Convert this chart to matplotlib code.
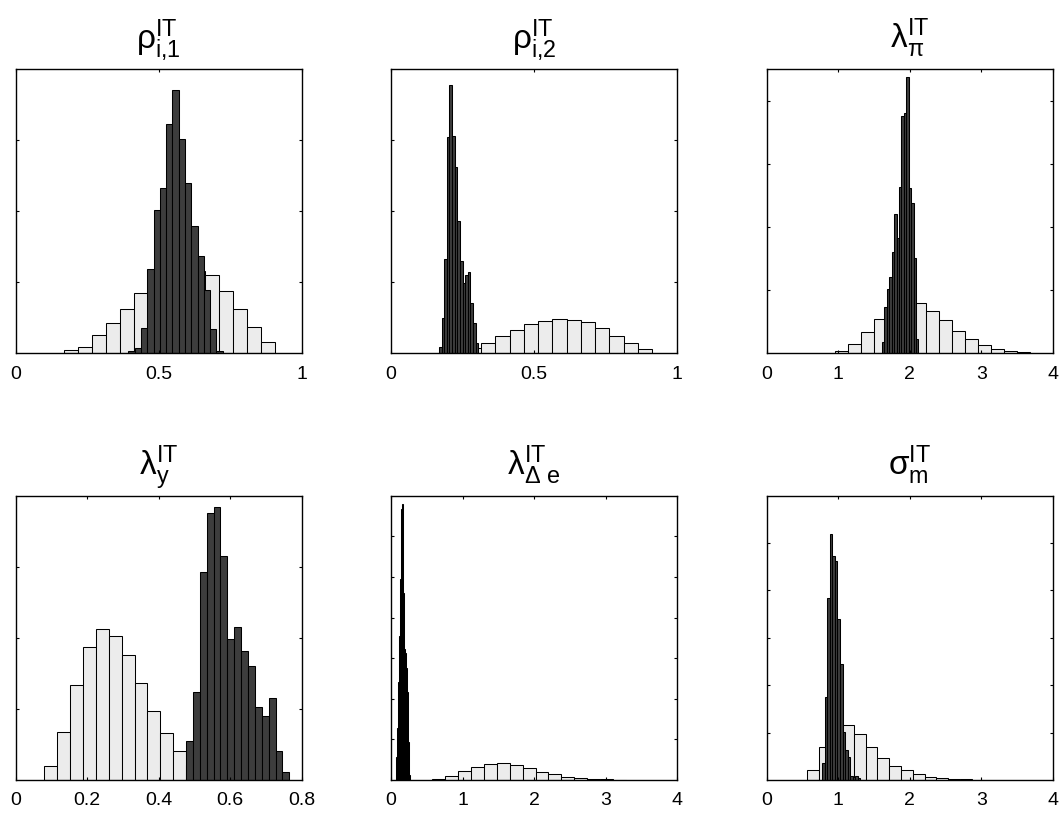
import numpy as np
import matplotlib
matplotlib.use("Agg")
import matplotlib.pyplot as plt

plt.rcParams.update({
    "font.family": ["Liberation Sans", "DejaVu Sans"],
    "mathtext.fontset": "custom", "mathtext.rm": "Liberation Sans",
    "mathtext.it": "Liberation Sans:italic", "mathtext.bf": "Liberation Sans:bold",
    "xtick.direction": "in", "ytick.direction": "in",
    "xtick.top": True, "ytick.right": True,
    "xtick.major.size": 2.4, "ytick.major.size": 2.4,
    "axes.linewidth": 1.0, "xtick.labelsize": 14, "axes.titlesize": 24,
})

TITLES = [r"$\mathrm{\rho^{IT}_{i{,}1}}$", r"$\mathrm{\rho^{IT}_{i{,}2}}$",
          r"$\mathrm{\lambda^{IT}_{\pi}}$", r"$\mathrm{\lambda^{IT}_{y}}$",
          r"$\mathrm{\lambda^{IT}_{\Delta\ e}}$", r"$\mathrm{\sigma^{IT}_{m}}$"]

# prior (light) and posterior (dark) densities, 15 bins each, with bin ranges
prior_rho1 = [0.09, 0.19, 0.51, 0.84, 1.24, 1.69, 1.97, 2.19, 2.31, 2.31, 2.19, 1.76, 1.24, 0.75, 0.32]
post_rho1 = [0.05, 0.14, 0.70, 2.36, 4.02, 4.64, 6.44, 7.40, 6.02, 4.78, 3.57, 2.73, 1.77, 0.68, 0.05]
prior_rho2 = [0.10, 0.20, 0.40, 0.70, 1.22, 1.64, 2.04, 2.30, 2.39, 2.34, 2.20, 1.76, 1.24, 0.70, 0.28]
post_rho2 = [0.47, 2.46, 6.61, 15.19, 18.85, 15.26, 13.08, 9.28, 6.47, 4.92, 5.49, 5.70, 3.52, 2.11, 0.70]
prior_lpi = [0.04, 0.15, 0.33, 0.55, 0.71, 0.81, 0.80, 0.67, 0.52, 0.35, 0.23, 0.13, 0.07, 0.04, 0.02]
post_lpi = [0.18, 0.74, 1.01, 1.20, 1.60, 2.20, 1.83, 2.63, 3.75, 3.81, 4.38, 2.62, 2.38, 1.51, 0.22]
prior_ly = [0.40, 1.34, 2.67, 3.75, 4.24, 4.05, 3.52, 2.72, 1.94, 1.31, 0.82, 0.42, 0.23, 0.08, 0.03]
post_ly = [1.11, 2.48, 5.86, 7.50, 7.69, 6.30, 3.96, 4.31, 3.64, 3.22, 2.05, 1.80, 2.30, 0.82, 0.23]
prior_lde = [0.05, 0.20, 0.43, 0.65, 0.78, 0.82, 0.74, 0.57, 0.41, 0.29, 0.16, 0.10, 0.05, 0.03, 0.01]
post_lde = [1.13, 2.55, 4.80, 7.11, 9.90, 13.33, 13.58, 9.22, 6.47, 6.47, 6.27, 5.49, 4.31, 1.86, 0.25]
prior_sm = [0.20, 0.69, 1.10, 1.16, 0.97, 0.70, 0.47, 0.30, 0.21, 0.12, 0.07, 0.04, 0.02, 0.015, 0.006]
post_sm = [0.36, 1.76, 3.83, 5.19, 4.73, 4.62, 3.39, 2.45, 1.02, 0.63, 0.48, 0.08, 0.07, 0.08, 0.04]

prior_range = [(0.169, 0.908), (0.166, 0.9125), (0.961, 3.688),
               (0.080, 0.621), (0.569, 3.291), (0.560, 3.034)]
post_range = [(0.394, 0.724), (0.1677, 0.3053), (1.611, 2.123),
              (0.4765, 0.7655), (0.070, 0.266), (0.779, 1.307)]

XLIM = [1, 1, 4, 0.8, 4, 4]
XTICKS = [[0, 0.5, 1], [0, 0.5, 1], [0, 1, 2, 3, 4], [0, 0.2, 0.4, 0.6, 0.8],
          [0, 1, 2, 3, 4], [0, 1, 2, 3, 4]]
XLABELS = [["0", "0.5", "1"], ["0", "0.5", "1"], ["0", "1", "2", "3", "4"],
           ["0", "0.2", "0.4", "0.6", "0.8"], ["0", "1", "2", "3", "4"],
           ["0", "1", "2", "3", "4"]]
YTOP = [8, 20, 4.5, 8, 14, 6]
YSTEP = [2, 5, 1, 2, 2, 1]

priors = [prior_rho1, prior_rho2, prior_lpi, prior_ly, prior_lde, prior_sm]
posts = [post_rho1, post_rho2, post_lpi, post_ly, post_lde, post_sm]

fig = plt.figure(figsize=(10.6, 8.14), dpi=100)
lefts = [0.0148, 0.3689, 0.7233]
bottoms = [0.566, 0.0418]
W, H = 0.2698, 0.3493

for i in range(6):
    ax = fig.add_axes([lefts[i % 3], bottoms[i // 3], W, H])
    for vals, rng, fc in [(priors[i], prior_range[i], "#ececec"),
                          (posts[i], post_range[i], "#3d3d3d")]:
        edges = np.linspace(rng[0], rng[1], len(vals) + 1)
        ax.bar(edges[:-1], vals, width=np.diff(edges), align="edge",
               color=fc, edgecolor="black", linewidth=0.75)
    ax.set_xlim(0, XLIM[i])
    ax.set_ylim(0, YTOP[i])
    ax.set_xticks(XTICKS[i])
    ax.set_xticklabels(XLABELS[i])
    ax.set_yticks(np.arange(YSTEP[i], YTOP[i], YSTEP[i]))
    ax.set_yticklabels([])
    ax.tick_params(axis="x", pad=9)
    ax.set_title(TITLES[i], pad=15)

fig.savefig("out.png", dpi=100)
